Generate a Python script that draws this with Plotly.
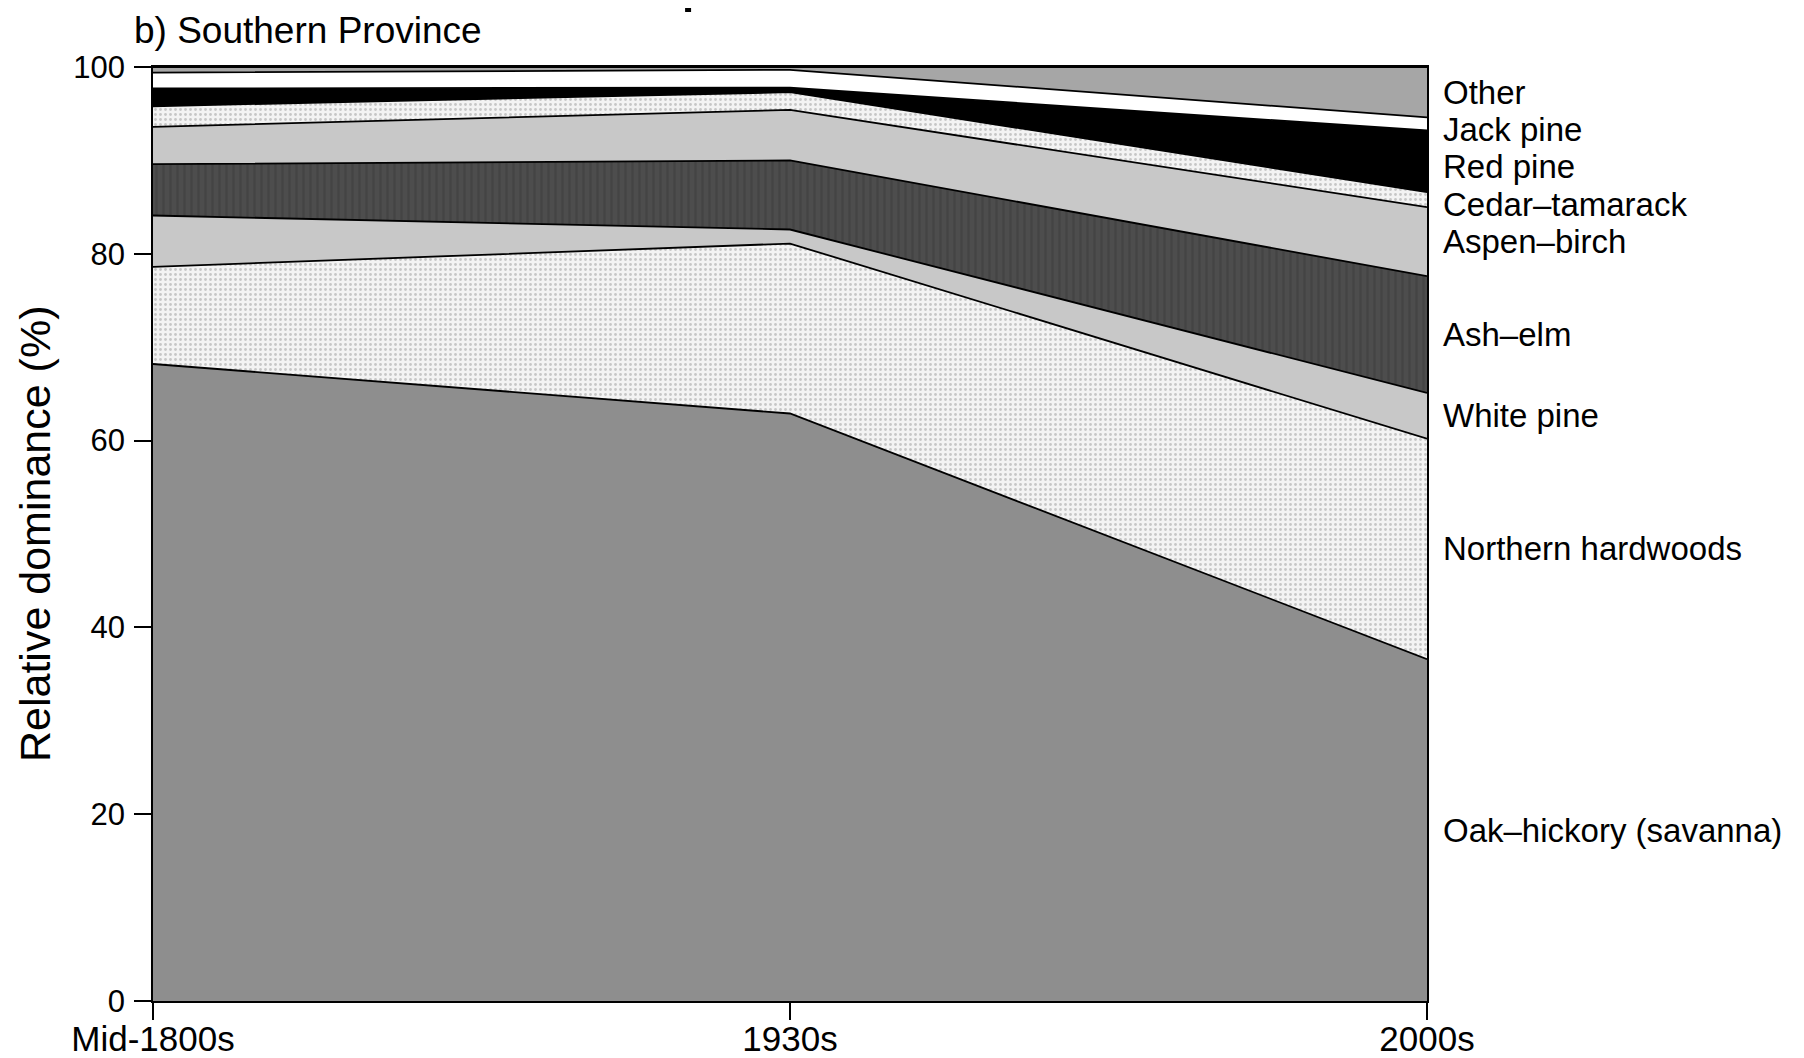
import plotly.graph_objects as go

periods = ["Mid-1800s", "1930s", "2000s"]

# bottom to top stacking order
oak_hickory = [68.2, 62.9, 36.6]
northern_hardwoods = [10.4, 18.2, 23.6]
white_pine = [5.5, 1.5, 4.9]
ash_elm = [5.5, 7.4, 12.5]
aspen_birch = [4.0, 5.4, 7.4]
cedar_tamarack = [2.2, 1.9, 1.6]
red_pine = [1.9, 0.5, 6.6]
jack_pine = [1.7, 1.9, 1.4]
other = [0.6, 0.3, 5.4]

names = ["Oak\u2013hickory (savanna)", "Northern hardwoods", "White pine", "Ash\u2013elm",
         "Aspen\u2013birch", "Cedar\u2013tamarack", "Red pine", "Jack pine", "Other"]
series = [oak_hickory, northern_hardwoods, white_pine, ash_elm, aspen_birch,
          cedar_tamarack, red_pine, jack_pine, other]

dots = dict(shape=".", bgcolor="#f3f3f3", fgcolor="#9a9a9a", size=5, solidity=0.25)
styles = [
    dict(fillcolor="#8e8e8e"),
    dict(fillcolor="#f3f3f3", fillpattern=dots),
    dict(fillcolor="#c8c8c8"),
    dict(fillcolor="#4a4a4a", fillpattern=dict(shape="|", bgcolor="#4d4d4d", fgcolor="#3c3c3c", size=7, solidity=0.35)),
    dict(fillcolor="#c8c8c8"),
    dict(fillcolor="#f3f3f3", fillpattern=dots),
    dict(fillcolor="#000000"),
    dict(fillcolor="#ffffff"),
    dict(fillcolor="#a6a6a6"),
]

FONT = "Liberation Sans, Arial, Helvetica, sans-serif"

fig = go.Figure()
for name, vals, st in zip(names, series, styles):
    fig.add_trace(go.Scatter(
        x=periods, y=vals, name=name, mode="lines", stackgroup="one",
        line=dict(color="black", width=1.8), showlegend=False, **st))

# labels at the right: midpoints of the last-period bands, pushed apart from top
cum = 0
mids = []
for vals in series:
    mids.append(cum + vals[-1] / 2)
    cum += vals[-1]
label_y = [0] * len(mids)
gap = 4.0
prev = None
for i in range(len(mids) - 1, -1, -1):
    y = mids[i] if prev is None else min(mids[i], prev - gap)
    label_y[i] = y
    prev = y

for name, y in zip(names, label_y):
    fig.add_annotation(x=1.0, xref="paper", y=y, yref="y", text=name, showarrow=False,
                       xanchor="left", yanchor="middle", xshift=14,
                       font=dict(family=FONT, size=33, color="black"))

fig.add_annotation(x=-0.0165, xref="paper", y=1.0396, yref="paper", text="b) Southern Province",
                   showarrow=False, xanchor="left", yanchor="middle",
                   font=dict(family=FONT, size=37, color="black"))
fig.add_annotation(x=-0.0926, xref="paper", y=0.5, yref="paper", text="Relative dominance (%)",
                   showarrow=False, xanchor="center", yanchor="middle", textangle=-90,
                   font=dict(family=FONT, size=43, color="black"))

# small dark mark cut off at the top edge of the source figure
fig.add_shape(type="line", xref="paper", yref="paper", x0=0.42, x1=0.42, y0=1.0589, y1=1.075,
              line=dict(color="black", width=6))

# page body adds an 8px offset, so the figure is sized to fit the 1804x1058 window
fig.update_layout(
    width=1796, height=1050, autosize=False,
    margin=dict(l=145, r=377, t=59, b=57, autoexpand=False),
    paper_bgcolor="white", plot_bgcolor="white",
    font=dict(family=FONT, color="black"),
    xaxis=dict(range=[0, 2], showgrid=False, zeroline=False, showline=True, linecolor="black",
               linewidth=1.5, mirror=True, ticks="outside", ticklen=17, tickcolor="black",
               tickwidth=1.5, tickfont=dict(size=35, family=FONT), ticklabelstandoff=-11,
               automargin=False),
    yaxis=dict(range=[0, 100], tickvals=[0, 20, 40, 60, 80, 100], showgrid=False,
               zeroline=False, showline=True, linecolor="black", linewidth=1.5, mirror=True,
               ticks="outside", ticklen=17, tickcolor="black", tickwidth=1.5,
               tickfont=dict(size=31, family=FONT), ticklabelstandoff=3, automargin=False),
)

fig.write_html("out.html")
